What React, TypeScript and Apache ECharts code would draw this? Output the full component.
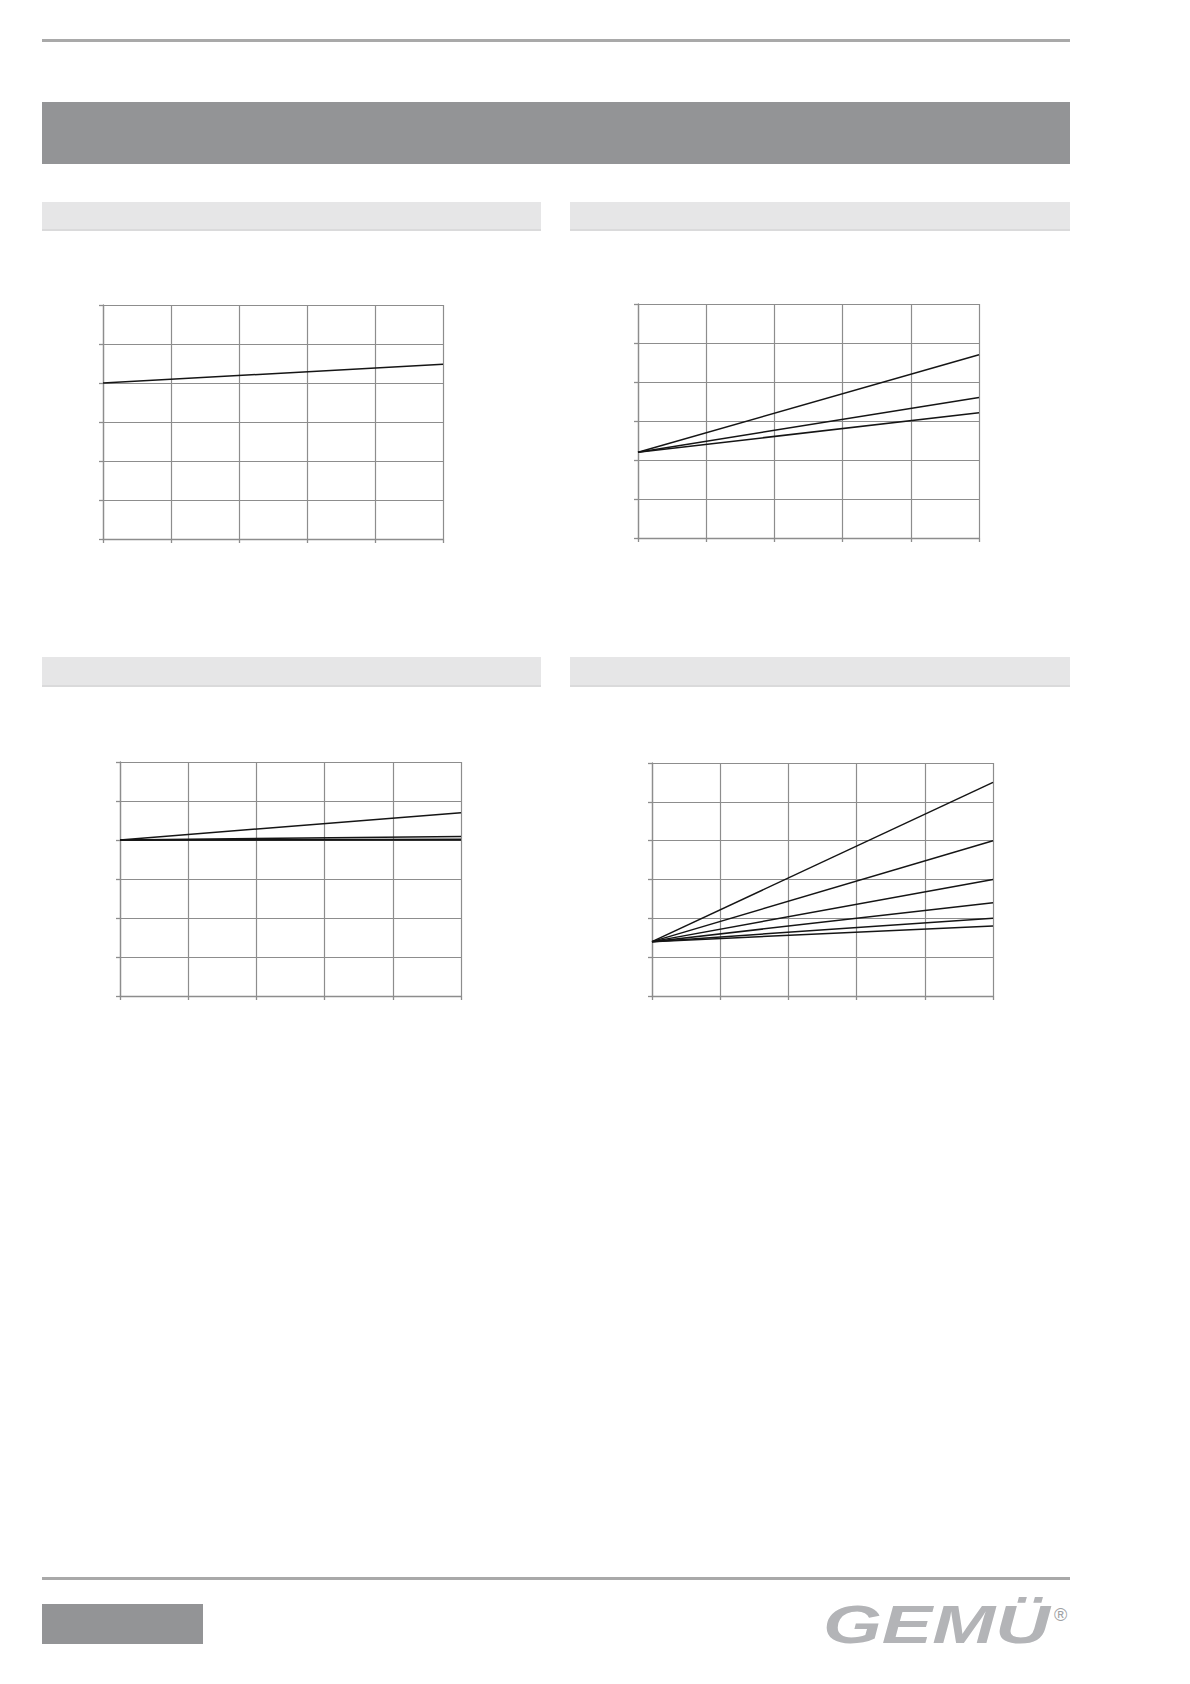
import React, { useEffect, useRef } from "react";
import * as echarts from "echarts";

// ---- data (axes carry no labels) ----
const xPoints = [0, 5];
const xMax = 5;
const yMax = 6;
const chart1Lines = [[4.0, 4.48]];
const chart2Lines = [
  [2.2, 4.7],
  [2.2, 3.6],
  [2.2, 3.21],
];
const chart3Lines = [
  [4.0, 4.7],
  [4.0, 4.09],
  [4.0, 4.02],
  [4.0, 4.0],
];
const chart4Lines = [
  [1.4, 5.5],
  [1.4, 4.0],
  [1.4, 3.0],
  [1.4, 2.4],
  [1.4, 2.0],
  [1.4, 1.8],
];
const allCharts = [chart1Lines, chart2Lines, chart3Lines, chart4Lines];

// ---- layout ----
const panels = [
  { left: 103, top: 305, width: 340, height: 234 },
  { left: 638, top: 304, width: 341, height: 234 },
  { left: 120, top: 762, width: 341, height: 234 },
  { left: 652, top: 763, width: 341, height: 233 },
];

const GRID = "#8d8d8d";
const LINE = "#151515";

export default function App() {
  const ref = useRef<HTMLDivElement>(null);
  useEffect(() => {
    if (!ref.current) return;
    const chart = echarts.init(ref.current, undefined, { renderer: "svg" });

    const grid = panels.map((p) => ({ ...p, containLabel: false }));
    const xAxis = panels.map((_, i) => ({
      type: "value",
      gridIndex: i,
      min: 0,
      max: xMax,
      interval: 1,
      axisLine: { show: true, lineStyle: { color: GRID, width: 1.3 } },
      axisTick: { show: true, length: 4, lineStyle: { color: GRID, width: 1.3 } },
      axisLabel: { show: false },
      splitLine: { show: true, lineStyle: { color: GRID, width: 1.2 } },
    }));
    const yAxis = panels.map((_, i) => ({
      type: "value",
      gridIndex: i,
      min: 0,
      max: yMax,
      interval: 1,
      axisLine: { show: true, lineStyle: { color: GRID, width: 1.3 } },
      axisTick: { show: true, length: 4, lineStyle: { color: GRID, width: 1.3 } },
      axisLabel: { show: false },
      splitLine: { show: true, lineStyle: { color: GRID, width: 1.2 } },
    }));
    const series: any[] = [];
    allCharts.forEach((lines, i) => {
      lines.forEach((ln) => {
        series.push({
          type: "line",
          xAxisIndex: i,
          yAxisIndex: i,
          data: xPoints.map((x, k) => [x, ln[k]]),
          symbol: "none",
          lineStyle: { color: LINE, width: 1.5 },
          z: 3,
        });
      });
    });

    const W = 1028; // 42 .. 1070
    const graphic: any[] = [
      { type: "rect", shape: { x: 42, y: 39, width: W, height: 3 }, style: { fill: "#a9a9a9" } },
      { type: "rect", shape: { x: 42, y: 102, width: W, height: 62 }, style: { fill: "#939496" } },
      { type: "rect", shape: { x: 42, y: 202, width: 499, height: 29 }, style: { fill: "#e6e6e7" } },
      { type: "rect", shape: { x: 42, y: 229, width: 499, height: 2 }, style: { fill: "#dadadb" } },
      { type: "rect", shape: { x: 570, y: 202, width: 500, height: 29 }, style: { fill: "#e6e6e7" } },
      { type: "rect", shape: { x: 570, y: 229, width: 500, height: 2 }, style: { fill: "#dadadb" } },
      { type: "rect", shape: { x: 42, y: 657, width: 499, height: 30 }, style: { fill: "#e6e6e7" } },
      { type: "rect", shape: { x: 42, y: 685, width: 499, height: 2 }, style: { fill: "#dadadb" } },
      { type: "rect", shape: { x: 570, y: 657, width: 500, height: 30 }, style: { fill: "#e6e6e7" } },
      { type: "rect", shape: { x: 570, y: 685, width: 500, height: 2 }, style: { fill: "#dadadb" } },
      { type: "rect", shape: { x: 42, y: 1577, width: W, height: 3 }, style: { fill: "#a9a9a9" } },
      { type: "rect", shape: { x: 42, y: 1604, width: 161, height: 40 }, style: { fill: "#939496" } },
      {
        type: "text",
        x: 823,
        y: 1625,
        scaleX: 1.4,
        style: {
          text: "GEMÜ",
          fill: "#b3b4b7",
          font: "italic bold 54px 'Liberation Sans', Arial, sans-serif",
          textVerticalAlign: "middle",
          textAlign: "left",
        },
      },
      {
        type: "text",
        x: 1054,
        y: 1615,
        style: {
          text: "®",
          fill: "#a0a1a4",
          font: "18px 'Liberation Sans', Arial, sans-serif",
          textVerticalAlign: "middle",
          textAlign: "left",
        },
      },
    ];

    chart.setOption({
      animation: false,
      backgroundColor: "#ffffff",
      grid,
      xAxis,
      yAxis,
      series,
      graphic,
    });
    return () => chart.dispose();
  }, []);

  return (
    <div
      ref={ref}
      style={{ position: "absolute", left: 0, top: 0, width: 1190, height: 1684, background: "#fff" }}
    />
  );
}
